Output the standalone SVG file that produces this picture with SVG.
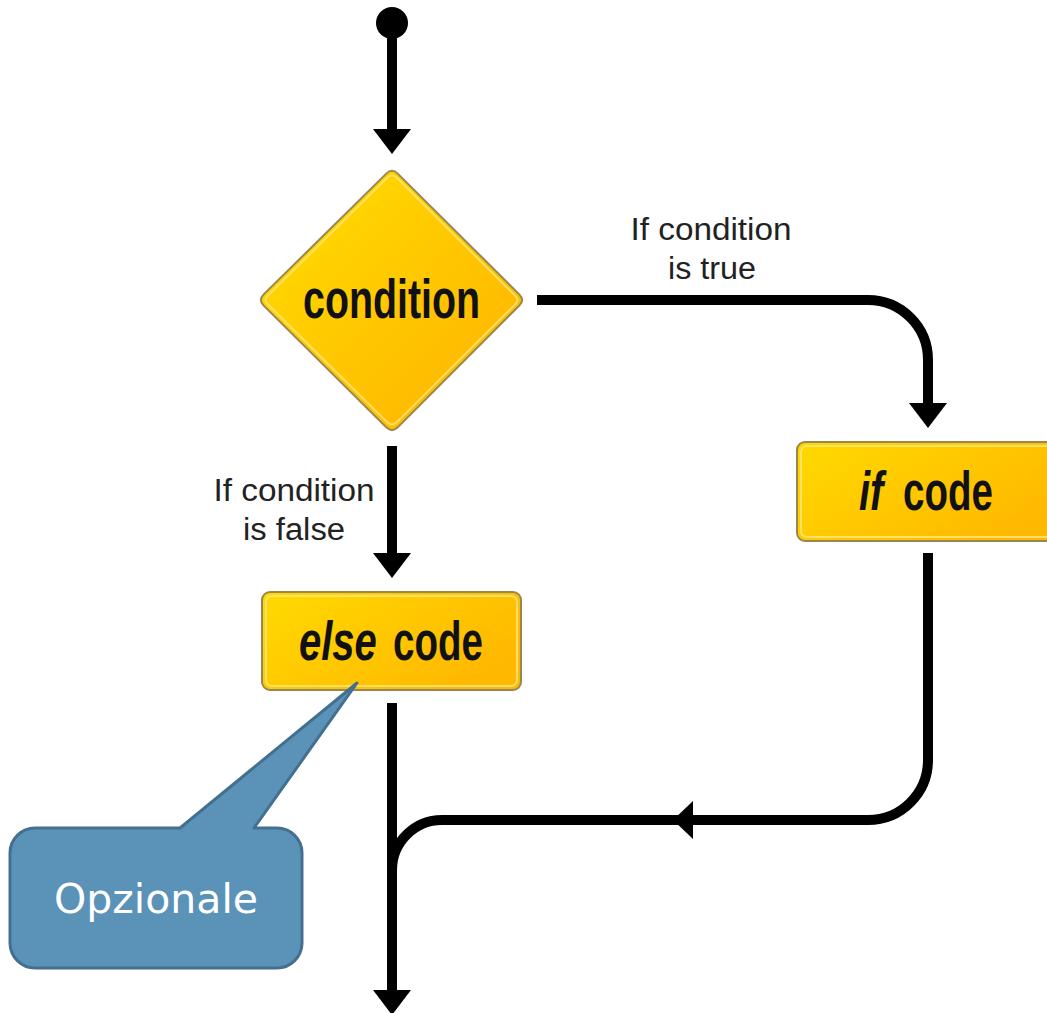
<svg xmlns="http://www.w3.org/2000/svg" width="1047" height="1013" viewBox="0 0 1047 1013">
  <style>
    .conn { fill: none; stroke: #000; stroke-width: 10; stroke-linecap: butt; }
    .shape { stroke: #9a8650; stroke-width: 2; }
    .inner { fill: none; stroke: #ffe680; stroke-width: 2; opacity: 0.8; }
    .big { font-family: "Liberation Sans", Arial, sans-serif; font-weight: bold; font-size: 40px; fill: #111; }
    .it { font-style: italic; }
    .lbl { font-family: "Liberation Sans", Arial, sans-serif; font-size: 31px; fill: #222; text-anchor: middle; }
    .note { font-family: "DejaVu Sans", Verdana, sans-serif; font-size: 41px; fill: #fff; text-anchor: middle; }
  </style>
  <defs>
    <linearGradient id="gold" x1="0" y1="0" x2="1" y2="1">
      <stop offset="0" stop-color="#ffdf00"/>
      <stop offset="1" stop-color="#ffb000"/>
    </linearGradient>
    <linearGradient id="goldBox" x1="0" y1="0" x2="1" y2="0.6">
      <stop offset="0" stop-color="#ffda00"/>
      <stop offset="1" stop-color="#ffb800"/>
    </linearGradient>
    <marker id="arrow" markerUnits="userSpaceOnUse" markerWidth="26" markerHeight="40" refX="0" refY="19" orient="auto" overflow="visible">
      <path d="M0,0 L25,19 L0,38 Z" fill="#000"/>
    </marker>
    <marker id="arrowShort" markerUnits="userSpaceOnUse" markerWidth="22" markerHeight="40" refX="0" refY="19" orient="auto" overflow="visible">
      <path d="M0,0 L20,19 L0,38 Z" fill="#000"/>
    </marker>
  </defs>

  <g id="connectors">
    <circle cx="392" cy="23" r="16" fill="#000"/>
    <path class="conn" d="M392,23 L392,129" marker-end="url(#arrow)"/>
    <path class="conn" d="M537,300 L868,300 A60,60 0 0 1 928,360 L928,403" marker-end="url(#arrow)"/>
    <path class="conn" d="M392,446 L392,553" marker-end="url(#arrow)"/>
    <path class="conn" d="M928,553 L928,760 A60,60 0 0 1 868,820 L693,820" marker-end="url(#arrowShort)"/>
    <path class="conn" d="M680,820 L442,820 A50,50 0 0 0 392,870"/>
    <path class="conn" d="M392,703 L392,990" marker-end="url(#arrow)"/>
    <text class="lbl" x="711" y="240" textLength="161" lengthAdjust="spacingAndGlyphs">If condition</text>
    <text class="lbl" x="712" y="279" textLength="88" lengthAdjust="spacingAndGlyphs">is true</text>
    <text class="lbl" x="294" y="501" textLength="161" lengthAdjust="spacingAndGlyphs">If condition</text>
    <text class="lbl" x="294" y="540" textLength="102" lengthAdjust="spacingAndGlyphs">is false</text>
  </g>

  <g id="condition">
    <path class="shape" fill="url(#gold)" d="M386.3,173.6 Q392,168 397.7,173.6 L519.3,294.4 Q525,300 519.3,305.6 L397.7,427.4 Q392,433 386.3,427.4 L263.7,305.6 Q258,300 263.7,294.4 Z"/>
    <path class="inner" d="M387,178 Q392,173 397,178 L515,295.5 Q520,300 515,304.5 L397,422 Q392,427 387,422 L268,304.5 Q263,300 268,295.5 Z"/>
    <text class="big" transform="translate(303,318) scale(1,1.4)" textLength="177" lengthAdjust="spacingAndGlyphs">condition</text>
  </g>

  <g id="if-code">
    <rect class="shape" fill="url(#goldBox)" x="797" y="442" width="270" height="99" rx="8"/>
    <rect class="inner" x="801" y="446" width="262" height="91" rx="6"/>
    <text class="big it" transform="translate(859,510) scale(1,1.4)">if</text>
    <text class="big" transform="translate(903,510) scale(1,1.4)" textLength="90" lengthAdjust="spacingAndGlyphs">code</text>
  </g>

  <g id="else-code">
    <rect class="shape" fill="url(#goldBox)" x="262" y="592" width="259" height="98" rx="8"/>
    <rect class="inner" x="266" y="596" width="251" height="90" rx="6"/>
    <text class="big it" transform="translate(299,660) scale(1,1.4)">else</text>
    <text class="big" transform="translate(393,660) scale(1,1.4)" textLength="90" lengthAdjust="spacingAndGlyphs">code</text>
  </g>

  <g id="callout">
    <path d="M35,828 L180,828 L357,683 L254,828 L277,828 A25,25 0 0 1 302,853 L302,943 A25,25 0 0 1 277,968 L35,968 A25,25 0 0 1 10,943 L10,853 A25,25 0 0 1 35,828 Z" fill="#5b92b7" stroke="#44708f" stroke-width="3" stroke-linejoin="round"/>
    <text class="note" x="156" y="913">Opzionale</text>
  </g>
</svg>
